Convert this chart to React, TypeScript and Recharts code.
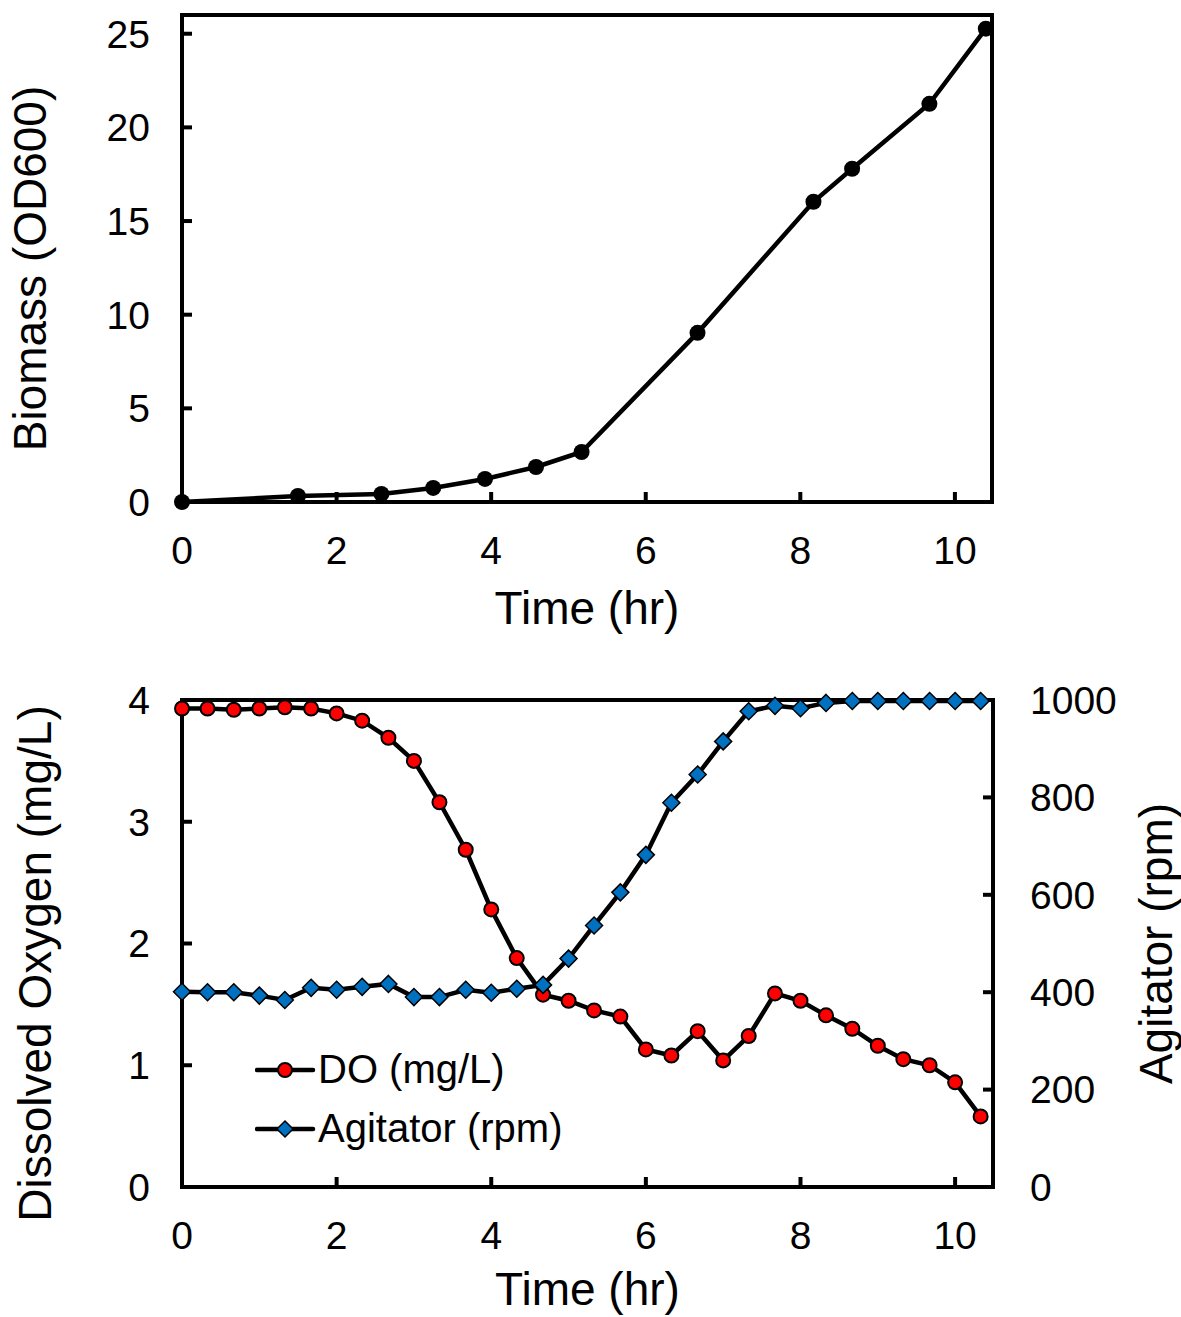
import React from "react";
import { LineChart, Line, XAxis, YAxis, Legend, Label } from "recharts";

// top panel: biomass growth
const odTime = [0, 1.5, 2.58, 3.25, 3.92, 4.58, 5.17, 6.67, 8.17, 8.67, 9.67, 10.4];
const odValue = [0, 0.32, 0.43, 0.75, 1.23, 1.87, 2.67, 9.03, 16.03, 17.79, 21.26, 25.27];

// bottom panel: dissolved oxygen + agitator, sampled every 20 min
const doTime = [
    0, 0.33, 0.67, 1, 1.33, 1.67, 2, 2.33, 2.67, 3, 3.33, 3.67, 4, 4.33, 4.67, 5,
    5.33, 5.67, 6, 6.33, 6.67, 7, 7.33, 7.67, 8, 8.33, 8.67, 9, 9.33, 9.67, 10, 10.33,
];
const doValue = [
    3.93, 3.93, 3.92, 3.93, 3.94, 3.93, 3.89, 3.83, 3.69, 3.5, 3.16, 2.77, 2.28, 1.88, 1.58, 1.53,
    1.45, 1.4, 1.13, 1.08, 1.28, 1.04, 1.24, 1.59, 1.53, 1.41, 1.3, 1.16, 1.05, 1.0, 0.86, 0.58,
];
const agitatorRpm = [
    401, 400, 400, 393, 384, 409, 405, 411, 417, 390, 390, 405, 399, 407, 415, 469,
    537, 605, 682, 789, 847, 915, 977, 988, 983, 994, 998, 998, 998, 998, 998, 998,
];

const timeTicks = [0, 2, 4, 6, 8, 10];
const odTicks = [0, 5, 10, 15, 20, 25];
const doTicks = [0, 1, 2, 3, 4];
const rpmTicks = [0, 200, 400, 600, 800, 1000];

const biomassData = odTime.map((t, i) => ({ t, od: odValue[i] }));
const oxygenData = doTime.map((t, i) => ({ t, DO: doValue[i], rpm: agitatorRpm[i] }));

const FONT = "'Liberation Sans', Arial, sans-serif";
const axisLine = { stroke: "#000", strokeWidth: 4, strokeLinecap: "square" as const };
const tickLine = { stroke: "#000", strokeWidth: 4 };
const tickStyle = { fill: "#000", fontSize: 39, fontFamily: FONT };
const titleStyle = { fill: "#000", fontSize: 46, fontFamily: FONT, textAnchor: "middle" as const };
const BLUE = "#0070c0";
const RED = "#ff0000";

const Diamond = (props: any) => {
    const { cx, cy, index } = props;
    if (cx == null || cy == null) return <g key={`dm-${index}`} />;
    const s = 8.5;
    return (
        <path
            key={`dm-${index}`}
            d={`M${cx},${cy - s}L${cx + s},${cy}L${cx},${cy + s}L${cx - s},${cy}Z`}
            fill={BLUE}
            stroke="#000"
            strokeWidth={1.5}
        />
    );
};

const legendItems = [
    { label: "DO (mg/L)", shape: "circle" },
    { label: "Agitator (rpm)", shape: "diamond" },
];

const OxygenLegend = () => (
    <div style={{ fontFamily: FONT, fontSize: 40, color: "#000" }}>
        {legendItems.map((item) => (
            <div key={item.label} style={{ display: "flex", alignItems: "center", height: 59 }}>
                <svg width={62} height={24} style={{ display: "block" }}>
                    <line x1={2} y1={12} x2={58} y2={12} stroke="#000" strokeWidth={4.5} strokeLinecap="round" />
                    {item.shape === "circle" ? (
                        <circle cx={30} cy={12} r={7} fill={RED} stroke="#000" strokeWidth={2} />
                    ) : (
                        <path d="M30,4L38,12L30,20L22,12Z" fill={BLUE} stroke="#000" strokeWidth={1.5} />
                    )}
                </svg>
                <span style={{ marginLeft: 1, whiteSpace: "nowrap" }}>{item.label}</span>
            </div>
        ))}
    </div>
);

export default function App() {
    return (
        <div style={{ position: "absolute", left: 0, top: 0, width: 1181, height: 1317, background: "#fff", fontFamily: FONT }}>
            {/* Biomass */}
            <LineChart width={1181} height={650} data={biomassData} margin={{ top: 14, right: 188, left: 0, bottom: 0 }}>
                <XAxis
                    dataKey="t"
                    type="number"
                    domain={[0, 10.48]}
                    ticks={timeTicks}
                    interval={0}
                    height={148}
                    tickSize={-10}
                    tickMargin={44}
                    tick={tickStyle}
                    tickLine={tickLine}
                    axisLine={axisLine}
                >
                    <Label value="Time (hr)" position="insideBottom" offset={26} style={titleStyle} />
                </XAxis>
                <XAxis xAxisId="top" orientation="top" type="number" domain={[0, 10.48]} height={1} tick={false} tickLine={false} axisLine={axisLine} />
                <YAxis
                    type="number"
                    domain={[0, 26]}
                    ticks={odTicks}
                    interval={0}
                    width={182}
                    tickSize={-10}
                    tickMargin={42}
                    tick={tickStyle}
                    tickLine={tickLine}
                    axisLine={axisLine}
                >
                    <Label value="Biomass (OD600)" angle={-90} position="insideLeft" offset={30} dy={10} style={titleStyle} />
                </YAxis>
                <YAxis yAxisId="right" orientation="right" type="number" domain={[0, 26]} width={1} tick={false} tickLine={false} axisLine={axisLine} />
                <Line
                    dataKey="od"
                    type="linear"
                    stroke="#000"
                    strokeWidth={4.5}
                    dot={{ r: 8, fill: "#000", stroke: "#000", strokeWidth: 0 }}
                    isAnimationActive={false}
                />
            </LineChart>

            {/* Dissolved oxygen and agitator */}
            <LineChart width={1181} height={667} data={oxygenData} margin={{ top: 49, right: 0, left: 0, bottom: 0 }}>
                <XAxis
                    dataKey="t"
                    type="number"
                    domain={[0, 10.49]}
                    ticks={timeTicks}
                    interval={0}
                    height={130}
                    tickSize={-10}
                    tickMargin={44}
                    tick={tickStyle}
                    tickLine={tickLine}
                    axisLine={axisLine}
                >
                    <Label value="Time (hr)" position="insideBottom" offset={12} style={titleStyle} />
                </XAxis>
                <XAxis xAxisId="top" orientation="top" type="number" domain={[0, 10.49]} height={1} tick={false} tickLine={false} axisLine={axisLine} />
                <YAxis
                    yAxisId="do"
                    type="number"
                    domain={[0, 4]}
                    ticks={doTicks}
                    interval={0}
                    width={182}
                    tickSize={-10}
                    tickMargin={42}
                    tick={tickStyle}
                    tickLine={tickLine}
                    axisLine={axisLine}
                >
                    <Label value="Dissolved Oxygen (mg/L)" angle={-90} position="insideLeft" offset={35} dy={20} style={titleStyle} />
                </YAxis>
                <YAxis
                    yAxisId="rpm"
                    orientation="right"
                    type="number"
                    domain={[0, 1000]}
                    ticks={rpmTicks}
                    interval={0}
                    width={188}
                    tickSize={-10}
                    tickMargin={47}
                    tick={tickStyle}
                    tickLine={tickLine}
                    axisLine={axisLine}
                >
                    <Label value="Agitator (rpm)" angle={-90} position="insideRight" offset={25} style={titleStyle} />
                </YAxis>
                <Legend
                    layout="vertical"
                    align="center"
                    verticalAlign="middle"
                    content={() => <OxygenLegend />}
                    wrapperStyle={{ left: 255, top: 390, width: 420, height: 118 }}
                />
                <Line
                    yAxisId="do"
                    dataKey="DO"
                    name="DO (mg/L)"
                    type="linear"
                    stroke="#000"
                    strokeWidth={4.5}
                    dot={{ r: 7, fill: RED, stroke: "#000", strokeWidth: 2 }}
                    isAnimationActive={false}
                />
                <Line
                    yAxisId="rpm"
                    dataKey="rpm"
                    name="Agitator (rpm)"
                    type="linear"
                    stroke="#000"
                    strokeWidth={4.5}
                    dot={<Diamond />}
                    isAnimationActive={false}
                />
            </LineChart>
        </div>
    );
}
